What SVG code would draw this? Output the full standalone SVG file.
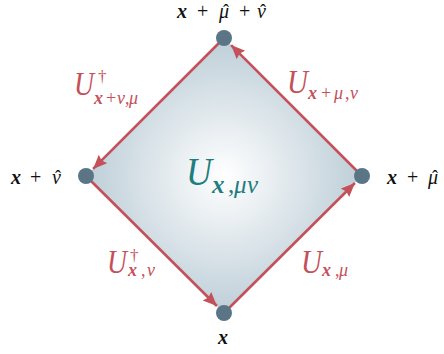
<svg xmlns="http://www.w3.org/2000/svg" width="444" height="354" viewBox="0 0 444 354">
<defs>
<radialGradient id="g" cx="224" cy="176" r="140" gradientUnits="userSpaceOnUse">
<stop offset="0" stop-color="#ffffff"/>
<stop offset="1" stop-color="#bccdd7"/>
</radialGradient>
<marker id="ah" markerUnits="userSpaceOnUse" markerWidth="16" markerHeight="14" refX="14" refY="6" orient="auto">
<path d="M0,0 L14,6 L0,12 L2,6 z" fill="#c4505a"/>
</marker>
<style>
.edge{stroke:#c4505a;stroke-width:2.6;fill:none}
.node{fill:#5a7586}
.lbl{font-family:"Liberation Serif",serif;font-size:20px;fill:#111}
.b{font-weight:bold;font-style:italic}
.i{font-style:italic}
.p{font-size:20px}
.h{font-size:18px}
.u{font-family:"Liberation Serif",serif;fill:#c4505a;font-style:italic}
.c{font-family:"Liberation Serif",serif;fill:#1e7d7d;font-style:italic}
.n{font-style:normal}
</style>
</defs>
<polygon points="224,38 362,176 224,313 86,176" fill="url(#g)"/>
<g id="connectors">
<line class="edge" x1="224" y1="313" x2="354.9" y2="183.0" marker-end="url(#ah)"/>
<line class="edge" x1="362" y1="176" x2="231.1" y2="45.1" marker-end="url(#ah)"/>
<line class="edge" x1="224" y1="38" x2="93.1" y2="168.9" marker-end="url(#ah)"/>
<line class="edge" x1="86" y1="176" x2="216.9" y2="306.0" marker-end="url(#ah)"/>
</g>
<g id="n_top"><circle class="node" cx="224" cy="38" r="8"/>
<text class="lbl"><tspan class="b" x="177" y="18">x</tspan><tspan class="p" x="197" y="18">+</tspan><tspan class="i" x="219" y="18">μ</tspan><tspan class="h" x="223" y="17">ˆ</tspan><tspan class="p" x="239" y="18">+</tspan><tspan class="i" x="257" y="18">ν</tspan><tspan class="h" x="260" y="17">ˆ</tspan></text></g>
<g id="n_left"><circle class="node" cx="86" cy="176" r="8"/>
<text class="lbl"><tspan class="b" x="11" y="184">x</tspan><tspan class="p" x="30" y="184">+</tspan><tspan class="i" x="52" y="184">ν</tspan><tspan class="h" x="55" y="183">ˆ</tspan></text></g>
<g id="n_right"><circle class="node" cx="362" cy="176" r="8"/>
<text class="lbl"><tspan class="b" x="387" y="184">x</tspan><tspan class="p" x="407" y="184">+</tspan><tspan class="i" x="428" y="184">μ</tspan><tspan class="h" x="432" y="183">ˆ</tspan></text></g>
<g id="n_bottom"><circle class="node" cx="224" cy="313" r="8"/>
<text class="lbl b" x="218" y="344">x</text></g>
<g id="labels">
<text class="u" x="74" y="95" font-size="33" textLength="20" lengthAdjust="spacingAndGlyphs">U</text>
<text class="u n" x="98" y="82" font-size="17">†</text>
<text class="u" font-size="18"><tspan font-weight="bold" x="94" y="104">x</tspan><tspan class="n" x="106" y="104">+</tspan><tspan x="117" y="104">ν</tspan><tspan class="n" x="125" y="104">,</tspan><tspan x="129" y="104">μ</tspan></text>
<text class="u" x="287" y="93" font-size="33" textLength="21" lengthAdjust="spacingAndGlyphs">U</text>
<text class="u" font-size="18"><tspan font-weight="bold" x="308" y="99">x</tspan><tspan class="n" x="321" y="99">+</tspan><tspan x="334" y="99">μ</tspan><tspan class="n" x="345" y="99">,</tspan><tspan x="350" y="99">ν</tspan></text>
<text class="u" x="107" y="273" font-size="33" textLength="20" lengthAdjust="spacingAndGlyphs">U</text>
<text class="u n" x="130" y="261" font-size="17">†</text>
<text class="u" font-size="18"><tspan font-weight="bold" x="128" y="276">x</tspan><tspan class="n" x="141" y="276">,</tspan><tspan x="147" y="276">ν</tspan></text>
<text class="u" x="301" y="273" font-size="33" textLength="21" lengthAdjust="spacingAndGlyphs">U</text>
<text class="u" font-size="18"><tspan font-weight="bold" x="322" y="276">x</tspan><tspan class="n" x="335" y="276">,</tspan><tspan x="339" y="276">μ</tspan></text>
<text class="c" x="186" y="185" font-size="41" textLength="26" lengthAdjust="spacingAndGlyphs">U</text>
<text class="c" font-size="25"><tspan font-weight="bold" x="212" y="193">x</tspan><tspan class="n" x="228" y="193">,</tspan><tspan x="234" y="193">μ</tspan><tspan x="247" y="193">ν</tspan></text>
</g>
</svg>
